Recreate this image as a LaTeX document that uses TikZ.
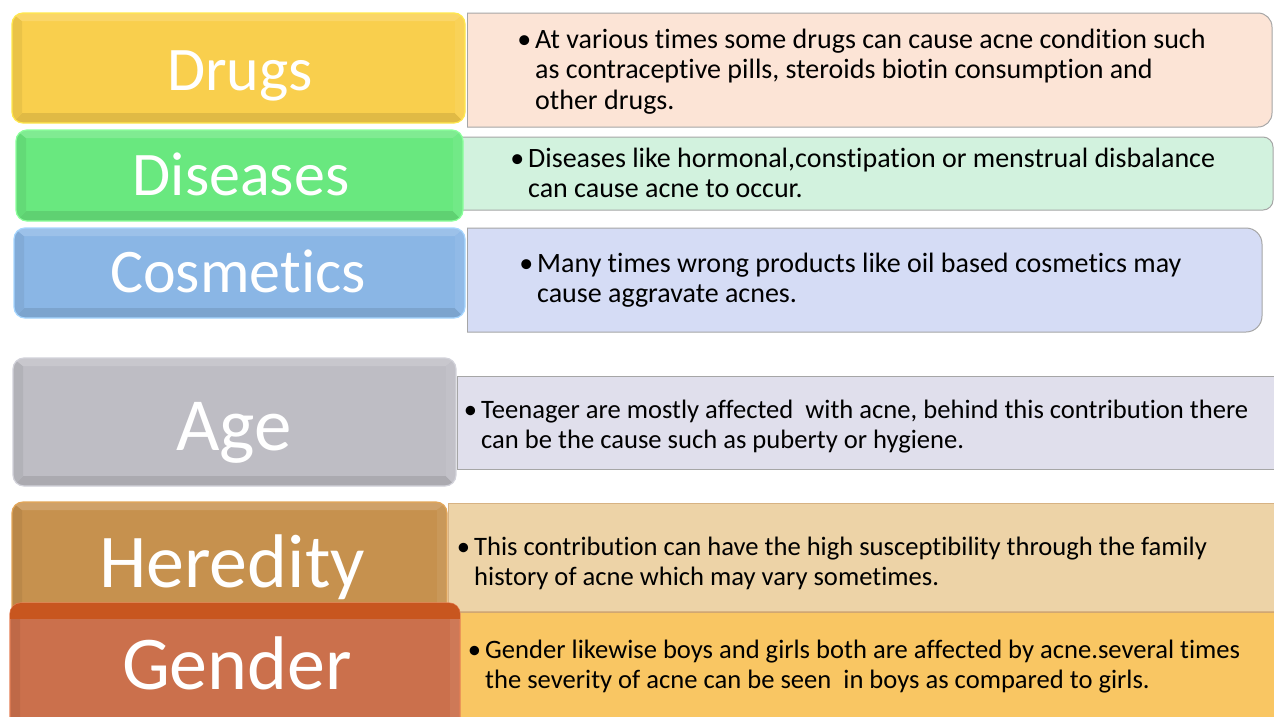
\documentclass[tikz,border=0pt]{standalone}
\usepackage{fontspec}
\setmainfont{Carlito}[Ligatures={NoCommon}]
\definecolor{cDrug}{HTML}{F9CF4D}
\definecolor{cDis}{HTML}{69E87F}
\definecolor{cCos}{HTML}{8AB6E5}
\definecolor{cAge}{HTML}{BEBDC4}
\definecolor{cHer}{HTML}{C6914E}
\definecolor{cGen}{HTML}{CB704C}
\definecolor{bDrug}{HTML}{FFE84D}
\definecolor{bDis}{HTML}{8CFF9C}
\definecolor{bCos}{HTML}{A6D6FF}
\definecolor{bAge}{HTML}{D2D2DA}
\definecolor{bHer}{HTML}{E3A658}
\definecolor{bGen}{HTML}{E57F55}
\definecolor{sGen}{HTML}{C8561F}
\definecolor{fDrug}{HTML}{FCE4D6}
\definecolor{fDis}{HTML}{D2F2DE}
\definecolor{fCos}{HTML}{D5DCF5}
\definecolor{fAge}{HTML}{E0DFEC}
\definecolor{fHer}{HTML}{EDD3A7}
\definecolor{fGen}{HTML}{F9C663}
\definecolor{edge}{HTML}{A6A6A6}
\newcommand\bevbox[6]{%
  \begin{scope}
    \clip[rounded corners=11pt] (#1,#2) rectangle (#3,#4);
    \fill[#5] (#1,#2) rectangle (#3,#4);
    \fill[#5!90!black] (#1,#4) -- ({#1+10},{#4-10}) -- ({#3-10},{#4-10}) -- (#3,#4) -- cycle;
    \fill[#5!94!black] (#1,#2) -- ({#1+10},{#2+8}) -- ({#1+10},{#4-10}) -- (#1,#4) -- cycle;
    \fill[#5!85!white] (#1,#2) -- ({#1+10},{#2+8}) -- ({#3-10},{#2+8}) -- (#3,#2) -- cycle;
    \fill[#5!94!white] (#3,#2) -- ({#3-10},{#2+8}) -- ({#3-10},{#4-10}) -- (#3,#4) -- cycle;
  \end{scope}
  \draw[#6, line width=1.2pt, rounded corners=11pt] (#1,#2) rectangle (#3,#4);
}
\newcommand\txtbox[7]{%
  \begin{scope}
    \clip (#1,0) rectangle (1274,716);
    \draw[fill=#5, draw=#6, line width=1pt, rounded corners=#7] ({#1-30},#2) rectangle (#3,#4);
  \end{scope}
  \draw[#6, line width=1pt] (#1,#2) -- (#1,#4);
}
\tikzset{
  body/.style={anchor=base west, inner sep=0pt, text=black, font=\fontsize{28}{30.5}\selectfont},
  bodysm/.style={body, font=\fontsize{26.6}{30.8}\selectfont},
  title/.style={anchor=base, inner sep=0pt, text=white}
}
\newcommand\bul{\llap{•\hspace{4pt}}}
\begin{document}
\begin{tikzpicture}[x=1pt,y=-1pt]
\useasboundingbox (0,0) rectangle (1274,716);
\fill[white] (0,0) rectangle (1274,716);
\clip (0,0) rectangle (1274,716);
% right text boxes
\txtbox{467}{13}{1272}{127}{fDrug}{edge}{14pt}
\txtbox{455}{137}{1273}{210}{fDis}{edge}{10pt}
\txtbox{467}{228}{1262}{332}{fCos}{edge}{16pt}
\txtbox{457}{376}{1290}{469}{fAge}{edge}{0pt}
\txtbox{448}{503}{1290}{611}{fHer}{cHer!70!white}{0pt}
\txtbox{458}{612}{1290}{730}{fGen}{cHer!80!white}{0pt}
% left title boxes
\bevbox{12}{13}{465}{123}{cDrug}{bDrug}
\bevbox{16}{130}{463}{221}{cDis}{bDis}
\bevbox{14}{228}{465}{318}{cCos}{bCos}
\bevbox{13}{358}{456}{486}{cAge}{bAge}
\bevbox{12}{502}{447}{618}{cHer}{bHer}
\bevbox{10}{603}{460}{740}{cGen}{bGen}
\begin{scope}
  \clip[rounded corners=11pt] (10,603) rectangle (460,740);
  \fill[sGen] (10,603) rectangle (460,619);
\end{scope}
% titles
\node[title, font=\fontsize{62}{70}\selectfont] (drugs) at (240,90) {Drugs};
\node[title, font=\fontsize{62}{70}\selectfont] (diseases) at (241,195) {Diseases};
\node[title, font=\fontsize{62}{70}\selectfont] (cosmetics) at (238,292) {Cosmetics};
\node[title, font=\fontsize{75}{80}\selectfont] (age) at (234,450) {Age};
\node[title, font=\fontsize{76}{80}\selectfont] (heredity) at (232,587) {Heredity};
\node[title, font=\fontsize{76}{80}\selectfont] (gender) at (237,689) {Gender};
% body texts
\node[body] (drugsT) at (535,48) {\begin{tabular}[t]{@{}l@{}}\bul At various times some drugs can cause acne condition such\\as contraceptive pills, steroids biotin consumption and\\other drugs.\end{tabular}};
\node[body] (diseasesT) at (528,167) {\begin{tabular}[t]{@{}l@{}}\bul Diseases like hormonal,constipation or menstrual disbalance\\can cause acne to occur.\end{tabular}};
\node[body] (cosmeticsT) at (537,272) {\begin{tabular}[t]{@{}l@{}}\bul Many times wrong products like oil based cosmetics may\\cause aggravate acnes.\end{tabular}};
\node[bodysm] (ageT) at (481,418) {\begin{tabular}[t]{@{}l@{}}\bul Teenager are mostly affected\ \ with acne, behind this contribution there\\can be the cause such as puberty or hygiene.\end{tabular}};
\node[bodysm] (heredityT) at (474,555) {\begin{tabular}[t]{@{}l@{}}\bul This contribution can have the high susceptibility through the family\\history of acne which may vary sometimes.\end{tabular}};
\node[bodysm] (genderT) at (485,658) {\begin{tabular}[t]{@{}l@{}}\bul Gender likewise boys and girls both are affected by acne.several times\\the severity of acne can be seen\ \ in boys as compared to girls.\end{tabular}};
\end{tikzpicture}
\end{document}
